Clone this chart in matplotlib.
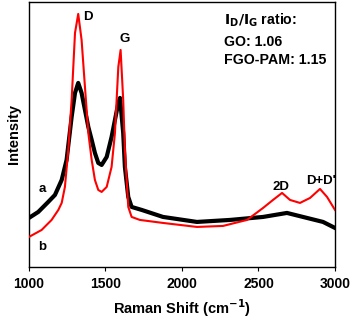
import numpy as np
import matplotlib.pyplot as plt

plt.rcParams['font.family'] = ['Liberation Sans', 'DejaVu Sans']
plt.rcParams['font.weight'] = 'bold'

# Raman spectra (intensity in arbitrary units)
# a: GO (black)
shift_a = [1000, 1061, 1126, 1170, 1214, 1246, 1279, 1301, 1322, 1344, 1366,
           1388, 1410, 1431, 1453, 1475, 1508, 1540, 1562, 1584, 1595, 1616,
           1627, 1649, 1671, 1737, 1876, 2098, 2314, 2530, 2686, 2817, 2922,
           3000]
inten_a = [49, 55, 65, 72, 87, 107, 150, 174, 184, 174, 157,
           140, 127, 114, 104, 102, 110, 130, 147, 164, 169, 134,
           100, 70, 60, 57, 50, 45, 47, 50, 54, 49, 45,
           39]

# b: FGO-PAM (red)
shift_b = [1000, 1083, 1148, 1192, 1214, 1235, 1257, 1279, 1301, 1322, 1344,
           1366, 1388, 1410, 1431, 1453, 1475, 1508, 1540, 1562, 1584, 1599,
           1616, 1627, 1649, 1671, 1725, 1876, 2098, 2268, 2425, 2530, 2595,
           2654, 2706, 2771, 2837, 2902, 2948, 3000]
inten_b = [30, 37, 47, 57, 64, 80, 117, 167, 234, 253, 227,
           180, 134, 107, 87, 77, 75, 80, 100, 134, 200, 217,
           167, 117, 60, 50, 47, 44, 40, 41, 47, 59, 67,
           74, 67, 64, 69, 78, 70, 57]

xticks = [1000, 1500, 2000, 2500, 3000]

fig = plt.figure(figsize=(3.53, 3.22), dpi=100)
ax = fig.add_axes([0.082, 0.171, 0.867, 0.823])

ax.plot(shift_a, inten_a, color='black', lw=3.0, zorder=3)
ax.plot(shift_b, inten_b, color='red', lw=1.5, zorder=4)

ax.set_xlim(1000, 3000)
ax.set_ylim(0, 265)
ax.set_xticks(xticks)
ax.set_yticks([])
ax.tick_params(axis='x', direction='out', length=3, labelsize=10, pad=4)
for lab in ax.get_xticklabels():
    lab.set_fontweight('bold')
for sp in ax.spines.values():
    sp.set_linewidth(1.0)

ax.set_xlabel('Raman Shift (cm$^{\\mathbf{-1}}$)', fontsize=10.5,
              fontweight='bold', labelpad=5)
ax.set_ylabel('Intensity', fontsize=10.5, fontweight='bold', labelpad=6)

kw = dict(fontsize=9.5, fontweight='bold', ha='center', va='center')
ax.text(1385, 250, 'D', **kw)
ax.text(1627, 228, 'G', **kw)
ax.text(2645, 80, '2D', **kw)
ax.text(2908, 86, "D+D'", **kw)
ax.text(1085, 78, 'a', **kw)
ax.text(1085, 20, 'b', **kw)

tk = dict(fontsize=10.2, fontweight='bold', ha='left', va='center')
ax.text(2272, 247, '$\\mathbf{I_D/I_G}$ ratio:', **tk)
ax.text(2272, 225, 'GO: 1.06', **tk)
ax.text(2272, 207, 'FGO-PAM: 1.15', **tk)

fig.savefig('out.png', dpi=100)
